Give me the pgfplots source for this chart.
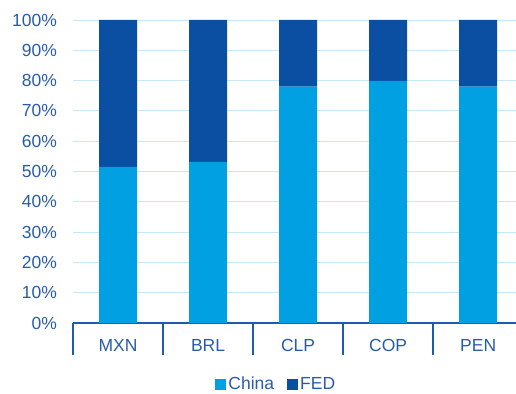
\documentclass[border=0pt]{standalone}
\usepackage{pgfplots}
\pgfplotsset{compat=1.18}
\usepackage{fontspec}
\setmainfont{Liberation Sans}
\definecolor{china}{RGB}{0,160,227}
\definecolor{fed}{RGB}{11,79,163}
\definecolor{axcol}{RGB}{30,90,175}
\definecolor{txtcol}{RGB}{40,92,170}
\definecolor{gridcol}{RGB}{200,232,247}
\begin{document}
\begin{tikzpicture}
\begin{axis}[
  at={(0,0)}, anchor=south west,
  scale only axis, width=443bp, height=303bp,
  ybar stacked, bar width=38bp,
  xmin=-0.5, xmax=4.42, ymin=0, ymax=100,
  xtick={0,1,2,3,4}, xticklabels={MXN,BRL,CLP,COP,PEN},
  ytick={0,10,...,100},
  yticklabel={\pgfmathprintnumber{\tick}\%},
  /pgf/number format/assume math mode=true,
  axis x line*=bottom, axis y line*=left,
  y axis line style={draw=none},
  x axis line style={draw=axcol, line width=1.5pt, -},
  major tick length=0pt,
  ymajorgrids, grid style={gridcol, line width=0.9pt},
  extra x ticks={-0.5,0.5,1.5,2.5,3.5},
  extra x tick labels={},
  extra x tick style={major tick length=32bp, tick align=outside, xtick pos=bottom, grid=none,
     major tick style={draw=axcol, line width=1.5pt}},
  tick label style={font=\fontsize{17.5bp}{20bp}\selectfont, text=txtcol},
  xticklabel style={yshift=-13bp},
  yticklabel style={xshift=-12.5bp},
  legend style={at={(0.459,-61bp)}, anchor=center, draw=none, fill=none,
     inner sep=0pt, outer sep=0pt,
     legend columns=2, font=\fontsize{17.5bp}{20bp}\selectfont\color{txtcol},
     /tikz/every even column/.append style={column sep=11bp}},
  legend image code/.code={\fill[#1] (0bp,-5.5bp) rectangle (11bp,5.5bp);},
]
\addplot[fill=china, draw=none] coordinates {(0,51.5) (1,53.2) (2,78) (3,79.9) (4,78)};
\addplot[fill=fed, draw=none] coordinates {(0,48.5) (1,46.8) (2,22) (3,20.1) (4,22)};
\legend{China,FED}
\end{axis}
\pgfresetboundingbox
\path[use as bounding box] (-73bp,-71bp) rectangle (443bp,323bp);
\end{tikzpicture}
\end{document}
